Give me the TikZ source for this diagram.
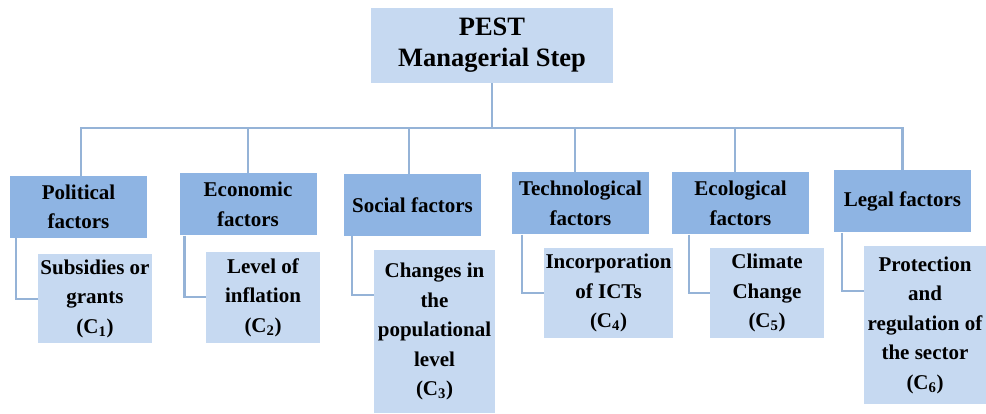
\documentclass[tikz,border=0pt]{standalone}
\usepackage{fontspec}
\setmainfont{Liberation Serif}
\usepackage{tikz}
\definecolor{catfill}{HTML}{8EB4E3}
\definecolor{itemfill}{HTML}{C6D9F1}
\definecolor{linkblue}{HTML}{95B3D7}

\begin{document}
\begin{tikzpicture}[x=1pt, y=-1pt, every node/.style={font=\bfseries\fontsize{21}{29.5}\selectfont, inner sep=0pt, align=center},
  head/.style={fill=itemfill, minimum width=242pt, minimum height=75pt, font=\bfseries\fontsize{26.5}{31}\selectfont},
  cat/.style={fill=catfill, minimum width=137pt, minimum height=62pt},
  item/.style={fill=itemfill},
  link/.style={draw=linkblue, line width=2.5pt}]
\useasboundingbox (0,0) rectangle (986,414);
% top of the tree
\node[head] (pest) at (492,45.5) {PEST\\Managerial Step};
% factor boxes
\node[cat] (pol) at (78.5,207) {Political\\factors};
\node[cat] (eco) at (248,204.5) {Economic\\factors};
\node[cat] (soc) at (412.5,205) {Social factors};
\node[cat] (tec) at (580.5,203.5) {Technological\\factors};
\node[cat] (ecl) at (740.5,203.5) {Ecological\\factors};
\node[cat] (leg) at (902.5,201.5) {Legal factors};
% criteria boxes
\node[item, minimum width=114pt, minimum height=89pt] (c1) at (95,298.5) {Subsidies or\\grants\\(C\textsubscript{1})};
\node[item, minimum width=114pt, minimum height=91pt] (c2) at (263,297.5) {Level of\\inflation\\(C\textsubscript{2})};
\node[item, minimum width=121pt, minimum height=163pt] (c3) at (434.5,331.5) {Changes in\\the\\populational\\level\\(C\textsubscript{3})};
\node[item, minimum width=129pt, minimum height=90pt] (c4) at (608.5,293) {Incorporation\\of ICTs\\(C\textsubscript{4})};
\node[item, minimum width=114pt, minimum height=90pt] (c5) at (767,293) {Climate\\Change\\(C\textsubscript{5})};
\node[item, minimum width=122pt, minimum height=158pt] (c6) at (925,325) {Protection\\and\\regulation of\\the sector\\(C\textsubscript{6})};
% tree lines
\coordinate (bus) at (492,128);
\draw[link] (pest.south) -- (bus);
\draw[link] (bus) -| ([xshift=2.5pt]pol.north);
\draw[link] (bus) -| (eco.north);
\draw[link] (bus) -| ([xshift=-3.5pt]soc.north);
\draw[link] (bus) -| ([xshift=-5.5pt]tec.north);
\draw[link] (bus) -| ([xshift=-5.5pt]ecl.north);
\draw[link] (bus) -| (leg.north);
\draw[link] ([xshift=6pt]pol.south west) |- ([yshift=-45pt]c1.north west);
\draw[link] ([xshift=5pt]eco.south west) |- ([yshift=-45pt]c2.north west);
\draw[link] ([xshift=8pt]soc.south west) |- ([yshift=-45pt]c3.north west);
\draw[link] ([xshift=10pt]tec.south west) |- ([yshift=-45pt]c4.north west);
\draw[link] ([xshift=17pt]ecl.south west) |- ([yshift=-45pt]c5.north west);
\draw[link] ([xshift=8pt]leg.south west) |- ([yshift=-45pt]c6.north west);
\end{tikzpicture}
\end{document}
